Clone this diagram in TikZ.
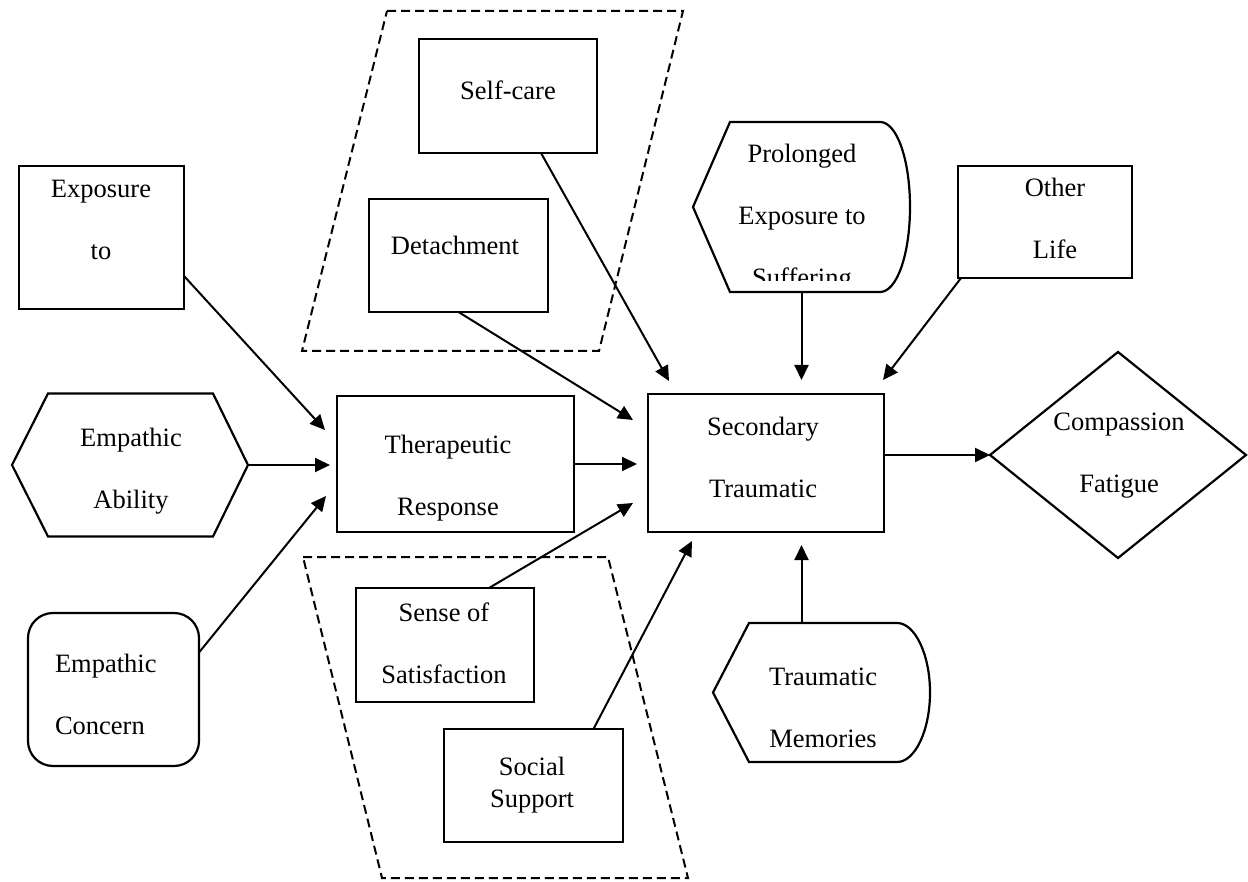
\documentclass[tikz,border=0pt]{standalone}
\usepackage{fontspec}
\setmainfont{Liberation Serif}
\usetikzlibrary{arrows.meta,calc}
\begin{document}
\begin{tikzpicture}[x=1pt,y=-1pt,
  box/.style={draw,line width=2.2pt,inner sep=0,outer sep=0},
  ghost/.style={inner sep=0,outer sep=0},
  shp/.style={line width=2.2pt,line join=miter},
  txt/.style={inner sep=0,outer sep=0,anchor=base,align=center,font=\fontsize{26.5}{62}\selectfont},
  arr/.style={line width=2pt,-{Triangle[length=15pt,width=14pt]}},
  grp/.style={line width=2pt,dash pattern=on 9pt off 5pt}]
\useasboundingbox (0,0) rectangle (1248,882);

% dashed groups
\draw[grp] (387,11) -- (683,11) -- (599,351) -- (302,351) -- cycle;
\draw[grp] (303,557) -- (608,557) -- (688,878) -- (382,878) -- cycle;

% rectangles
\node[box,minimum width=165pt,minimum height=143pt] (exp) at (101.5,237.5) {};
\node[box,minimum width=178pt,minimum height=114pt] (self) at (508,96) {};
\node[box,minimum width=179pt,minimum height=113pt] (det) at (458.5,255.5) {};
\node[box,minimum width=237pt,minimum height=136pt] (ther) at (455.5,464) {};
\node[box,minimum width=236pt,minimum height=138pt] (sec) at (766,463) {};
\node[box,minimum width=174pt,minimum height=112pt] (other) at (1045,222) {};
\node[box,minimum width=178pt,minimum height=114pt] (sense) at (445,645) {};
\node[box,minimum width=179pt,minimum height=113pt] (social) at (533.5,785.5) {};
\node[box,rounded corners=25pt,minimum width=171pt,minimum height=153pt] (conc) at (113.5,689.5) {};

% other shapes (frames)
\node[ghost,minimum width=236pt,minimum height=143pt] (abil) at (130,465) {};
\draw[shp] (abil.west) -- ($(abil.north west)+(36,0)$) -- ($(abil.north east)+(-35,0)$)
  -- (abil.east) -- ($(abil.south east)+(-35,0)$) -- ($(abil.south west)+(36,0)$) -- cycle;

\node[ghost,minimum width=217pt,minimum height=170pt] (prol) at (801.5,207) {};
\draw[shp] (prol.west) -- ($(prol.north west)+(37,0)$) -- ($(prol.north east)+(-30,0)$)
  .. controls ($(prol.north east)+(-13,0)$) and ($(prol.east)+(0,-47)$) .. (prol.east)
  .. controls ($(prol.east)+(0,47)$) and ($(prol.south east)+(-13,0)$) .. ($(prol.south east)+(-30,0)$)
  -- ($(prol.south west)+(37,0)$) -- cycle;

\node[ghost,minimum width=217pt,minimum height=139pt] (trau) at (821.5,692.5) {};
\draw[shp] (trau.west) -- ($(trau.north west)+(36,0)$) -- ($(trau.north east)+(-33,0)$)
  .. controls ($(trau.north east)+(-15,0)$) and ($(trau.east)+(0,-38)$) .. (trau.east)
  .. controls ($(trau.east)+(0,38)$) and ($(trau.south east)+(-15,0)$) .. ($(trau.south east)+(-33,0)$)
  -- ($(trau.south west)+(36,0)$) -- cycle;

\node[ghost,minimum width=256pt,minimum height=206pt] (comp) at (1118,455) {};
\draw[shp] (comp.west) -- (comp.north) -- (comp.east) -- (comp.south) -- cycle;

% texts (anchor = baseline of the last line)
\node[txt] (exp-t) at (101,260) {Exposure\\to};
\node[txt] (self-t) at (508,100) {Self-care};
\node[txt] (det-t) at (455,255) {Detachment};
\node[txt] (ther-t) at (448,515) {Therapeutic\\Response};
\node[txt] (sec-t) at (763,497) {Secondary\\Traumatic};
\node[txt] (other-t) at (1055,259) {Other\\Life};
\node[txt] (sense-t) at (444,683) {Sense of\\Satisfaction};
\node[txt,font=\fontsize{26.5}{32}\selectfont] (social-t) at (532,807) {Social\\Support};
\node[txt] (abil-t) at (131,508) {Empathic\\Ability};
\node[txt,align=left,anchor=base west] (conc-t) at (55,734) {Empathic\\Concern};
\begin{scope}
  \clip (690,110) rectangle (915,281);
  \node[txt] (prol-t) at (802,287) {Prolonged\\Exposure to\\Suffering};
\end{scope}
\node[txt] (trau-t) at (823,747) {Traumatic\\Memories};
\node[txt] (comp-t) at (1119,492) {Compassion\\Fatigue};

% connectors
\draw[arr] ($(exp.north east)+(0,110)$) -- ($(ther.west)+(-12,-34)$);
\draw[arr] (abil.east) -- ($(abil.east -| ther.west)+(-7,0)$);
\draw[arr] ($(conc.east)+(0,-37)$) -- ($(ther.west)+(-11,32)$);
\draw[arr] (ther.east) -- ($(ther.east -| sec.west)+(-11,0)$);
\draw[arr] ($(self.south)+(33,0)$) -- ($(sec.north west)+(21,-13)$);
\draw[arr] (det.south) -- ($(sec.west)+(-15,-43)$);
\draw[arr] (prol.south) -- ($(prol.south |- sec.north)+(0,-14)$);
\draw[arr] ($(other.south west)+(3,0)$) -- ($(sec.north east)+(-1,-14)$);
\draw[arr] ($(sense.north)+(44,0)$) -- ($(sec.west)+(-15,40)$);
\draw[arr] ($(social.north)+(60,0)$) -- ($(sec.south west)+(44,9)$);
\coordinate (trau-top) at ($(trau.north)+(-20,0)$);
\draw[arr] (trau-top) -- ($(trau-top |- sec.south)+(0,13)$);
\draw[arr] ($(sec.east)+(0,-8)$) -- (comp.west);
\end{tikzpicture}
\end{document}
